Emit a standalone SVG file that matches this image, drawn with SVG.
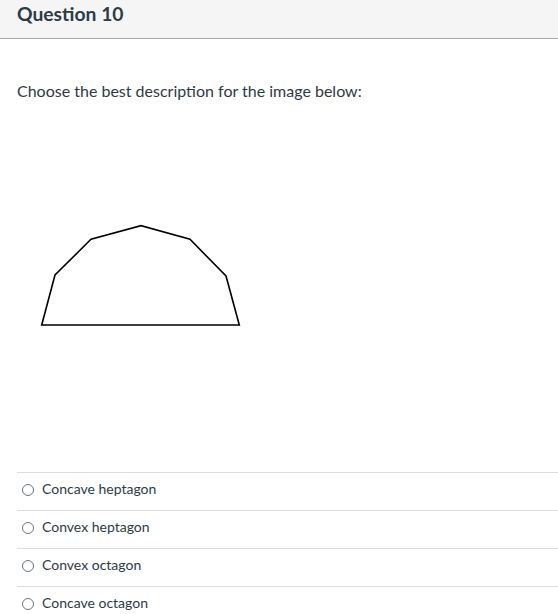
<svg xmlns="http://www.w3.org/2000/svg" width="558" height="614" viewBox="0 0 558 614">
<style>
.t{font-family:Lato,"Noto Sans",sans-serif;fill:#2d3b45}
.opt{font-size:14px;fill:#2d3b45;font-family:Lato,"Noto Sans",sans-serif}
.sep{stroke:#dddddd;stroke-width:1}
.rad{fill:#fff;stroke:#6b7780;stroke-width:1}
</style>
<rect width="558" height="614" fill="#ffffff"/>
<g id="header">
<rect x="0" y="0" width="558" height="38" fill="#f5f5f5"/>
<line x1="0" y1="38.5" x2="558" y2="38.5" stroke="#a8a8a8" stroke-width="1"/>
<text class="t" x="17" y="21" font-size="19.3" font-weight="bold">Question 10</text>
</g>
<g id="prompt">
<text class="t" x="17" y="97" font-size="16">Choose the best description for the image below:</text>
</g>
<g id="shape">
<polygon points="41.7,325 55,275 91,239.3 141,225.7 190,239.3 226,276 239.3,325" fill="none" stroke="#000" stroke-width="1.6" stroke-linejoin="miter"/>
</g>
<g id="options">
<line class="sep" x1="17" y1="472.5" x2="558" y2="472.5"/>
<line class="sep" x1="17" y1="510.5" x2="558" y2="510.5"/>
<line class="sep" x1="17" y1="548.5" x2="558" y2="548.5"/>
<line class="sep" x1="17" y1="586.5" x2="558" y2="586.5"/>
<g id="opt1"><circle class="rad" cx="28" cy="490" r="5.5"/><text class="opt" x="42" y="494">Concave heptagon</text></g>
<g id="opt2"><circle class="rad" cx="28" cy="528" r="5.5"/><text class="opt" x="42" y="532">Convex heptagon</text></g>
<g id="opt3"><circle class="rad" cx="28" cy="566" r="5.5"/><text class="opt" x="42" y="570">Convex octagon</text></g>
<g id="opt4"><circle class="rad" cx="28" cy="604" r="5.5"/><text class="opt" x="42" y="608">Concave octagon</text></g>
</g>
</svg>
